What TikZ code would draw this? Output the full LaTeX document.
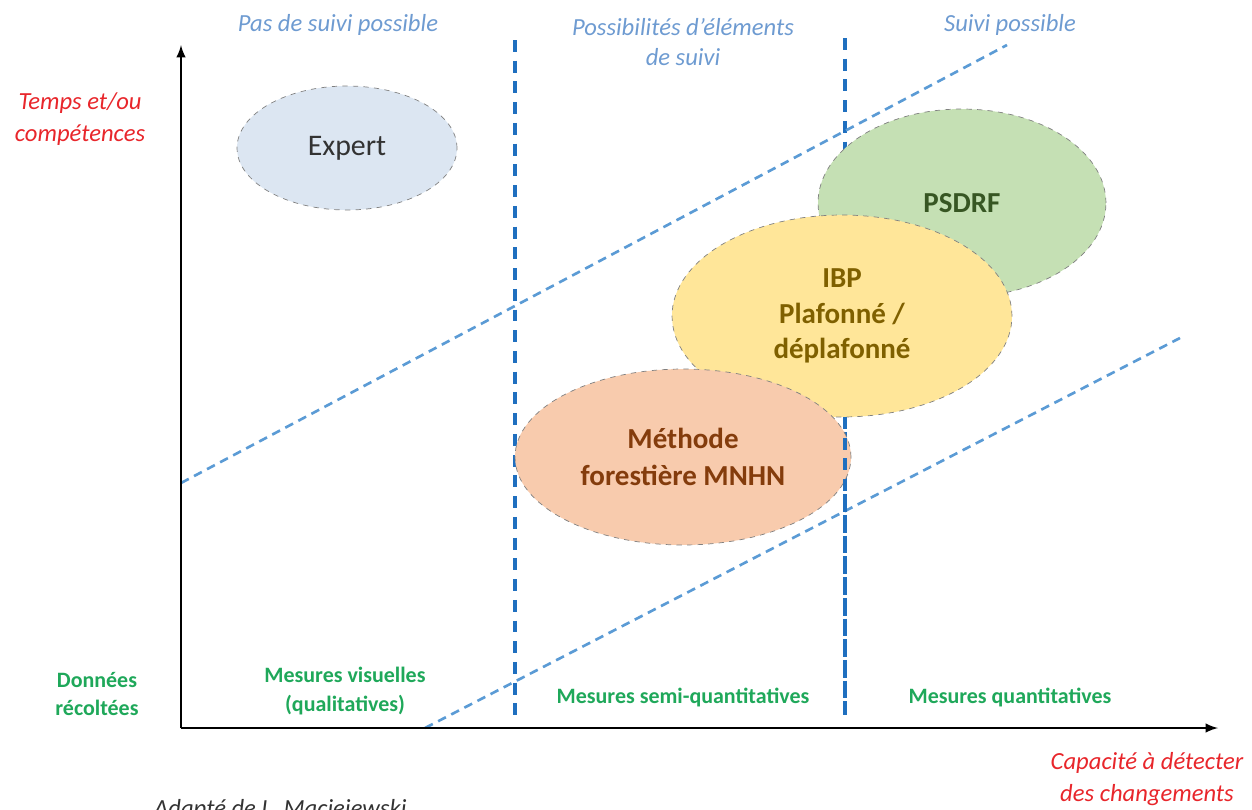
\documentclass[tikz,border=0pt]{standalone}
\usepackage{fontspec}
\setmainfont{Carlito}
\usepackage{tikz}
\usetikzlibrary{shapes.geometric, arrows, positioning, calc}
\definecolor{divblue}{HTML}{1F6FBF}
\definecolor{trendblue}{HTML}{5B9BD5}
\definecolor{headblue}{HTML}{6E9BD1}
\definecolor{axisred}{HTML}{E8262B}
\definecolor{datagreen}{HTML}{1FA85A}
\definecolor{rimgray}{HTML}{808080}
\definecolor{expertfill}{HTML}{DCE6F2}
\definecolor{psdrffill}{HTML}{C5E0B4}
\definecolor{ibpfill}{HTML}{FFE699}
\definecolor{mnhnfill}{HTML}{F8CBAD}

\begin{document}
\begin{tikzpicture}[x=0.02cm, y=-0.02cm,
    blob/.style={ellipse, draw=rimgray, dashed, thin, inner sep=0pt, align=center, font=\fontsize{16.5}{20}\selectfont\bfseries},
    divider/.style={divblue, line width=2.2pt, dash pattern=on 6.8pt off 5pt},
    trend/.style={trendblue, line width=1.5pt, dash pattern=on 5pt off 3.4pt},
    axisline/.style={black, line width=1.4pt, -latex},
    head/.style={headblue, align=center, font=\fontsize{14}{17}\selectfont\itshape},
    axislabel/.style={axisred, align=center, font=\fontsize{14}{18}\selectfont\itshape},
    measure/.style={datagreen, align=center, font=\fontsize{12.5}{16}\selectfont\bfseries}
]
\useasboundingbox (0,0) rectangle (1252,809);

\coordinate (origin) at (181,728);
\coordinate (ytip) at (181,45);
\coordinate (xtip) at (1218,728);
\coordinate (d1top) at (515,40);
\coordinate (d1bot) at (515,720);
\coordinate (d2top) at (845,38);
\coordinate (d2bot) at (845,715);
\coordinate (t1a) at (181,483);
\coordinate (t1b) at (1007,45);
\coordinate (t2a) at (425,728);
\coordinate (t2b) at (1180,338);

\draw[divider] (d1top) -- (d1bot);
\draw[divider] (d2top) -- (d2bot);
\draw[trend] (t1a) -- (t1b);
\draw[trend] (t2a) -- (t2b);

\node[blob, fill=expertfill, minimum width=4.4cm, minimum height=2.48cm, text=black!80, font=\fontsize{17}{20}\selectfont] (expert) at (347,148) {Expert};
\node[blob, fill=psdrffill, minimum width=5.76cm, minimum height=3.76cm, text={rgb,255:red,55;green,86;blue,35}] (psdrf) at (962,203) {PSDRF};
\node[blob, fill=ibpfill, minimum width=6.8cm, minimum height=4.04cm, text={rgb,255:red,127;green,96;blue,0}] (ibp) at (842,316) {IBP\\Plafonné /\\déplafonné};
\node[blob, fill=mnhnfill, minimum width=6.72cm, minimum height=3.52cm, text={rgb,255:red,132;green,60;blue,12}, font=\fontsize{16.5}{21}\selectfont\bfseries] (mnhn) at (683,457) {Méthode\\forestière MNHN};

\coordinate (d2mid) at (845,417);
\draw[divider] (d2mid) -- (d2bot);

\draw[axisline] (origin) -- (ytip);
\draw[axisline] (origin) -- (xtip);

\node[head] (nofollow) at (338,25) {Pas de suivi possible};
\node[head] (partial) at (683,42) {Possibilités d’éléments\\de suivi};
\node[head] (follow) at (1010,25) {Suivi possible};

\node[axislabel] (ylabel) at (80,119) {Temps et/ou\\compétences};
\node[axislabel] (xlabel) at (1147,779) {Capacité à détecter\\des changements};

\node[measure] (data) at (97,694) {Données\\récoltées};
\node[measure] (visual) at (345,691) {Mesures visuelles\\(qualitatives)};
\node[measure] (semi) at (683,697) {Mesures semi-quantitatives};
\node[measure] (quanti) at (1010,697) {Mesures quantitatives};

\node[anchor=base west, text=black!80, font=\fontsize{14}{17}\selectfont\itshape] (source) at (148,816) {Adapté de L. Maciejewski};
\end{tikzpicture}
\end{document}
